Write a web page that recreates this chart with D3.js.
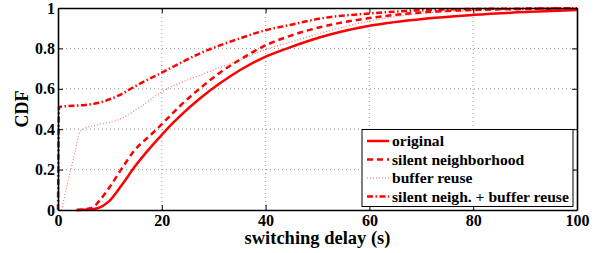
<!DOCTYPE html>
<html><head><meta charset="utf-8">
<script src="https://cdn.jsdelivr.net/npm/d3@7"></script>
<style>body{margin:0;background:#fff}svg{display:block}text{font-family:"Liberation Serif","Times New Roman",serif;font-weight:bold;fill:#000}</style>
</head><body><svg id="c" width="605" height="253"></svg>
<script>
const xTicks = [0, 20, 40, 60, 80, 100];
const yTicks = [0, 0.2, 0.4, 0.6, 0.8, 1];
const yTickLabels = ["0", "0.2", "0.4", "0.6", "0.8", "1"];
const seriesNames = ["original", "silent neighborhood", "buffer reuse", "silent neigh. + buffer reuse"];
const original = [[3.6,0],[6,0.002],[7.8,0.01],[9.7,0.04],[12.3,0.124],[14.8,0.215],[18,0.315],[20,0.372],[22.2,0.432],[23.5,0.465],[27.4,0.553],[31.2,0.627],[35.1,0.693],[40,0.759],[44.7,0.805],[50.5,0.855],[60,0.912],[71,0.948],[80,0.966],[90,0.98],[100,0.99]];
const silentNeigh = [[3.6,0],[6.5,0.01],[8.1,0.05],[10,0.115],[12.3,0.206],[14.8,0.297],[18,0.375],[20,0.425],[23.5,0.515],[27.4,0.603],[31.2,0.68],[35.1,0.745],[40,0.815],[44.7,0.862],[50.5,0.905],[60,0.95],[71,0.98],[80,0.99],[90,0.995],[100,0.998]];
const bufferReuse = [[0.7,0],[2,0.15],[3.3,0.29],[4.2,0.385],[5.2,0.405],[7.4,0.42],[12.3,0.454],[16.1,0.515],[20,0.585],[27.4,0.668],[35.1,0.743],[40,0.795],[44.7,0.83],[50.5,0.875],[60,0.935],[71,0.975],[80,0.988],[90,0.995],[100,0.998]];
const silentBuffer = [[0,0],[0.2,0.51],[5.2,0.52],[7.4,0.528],[11.6,0.566],[14.8,0.612],[20,0.68],[27.4,0.776],[35.1,0.85],[40,0.89],[44.7,0.916],[50.5,0.948],[60,0.973],[71,0.99],[80,0.995],[90,0.997],[100,0.999]];
const seriesData = [original, silentNeigh, bufferReuse, silentBuffer];
const styles = [
  {w:2.5, dash:null, color:"#ff0000", op:1},
  {w:2.5, dash:"6,4", color:"#ff0000", op:1},
  {w:1.1, dash:"1,2", color:"#ff0000", op:0.6},
  {w:2.5, dash:"6,2.5,1.5,2.5", color:"#ff0000", op:1}
];

const svg = d3.select("#c");
const L=58, R=577, T=8, B=210;
const x = d3.scaleLinear().domain([0,100]).range([L,R]);
const y = d3.scaleLinear().domain([0,1]).range([B,T]);

const g = svg.append("g");
g.selectAll(".gx").data(xTicks.slice(1,-1)).join("line")
  .attr("x1",d=>x(d)).attr("x2",d=>x(d)).attr("y1",B).attr("y2",T)
  .attr("stroke","#999").attr("stroke-width",1).attr("stroke-dasharray","1,3");
g.selectAll(".gy").data(yTicks.slice(1,-1)).join("line")
  .attr("y1",d=>y(d)).attr("y2",d=>y(d)).attr("x1",L).attr("x2",R)
  .attr("stroke","#999").attr("stroke-width",1).attr("stroke-dasharray","1,3");

const line = d3.line().x(d=>x(d[0])).y(d=>y(d[1])).curve(d3.curveMonotoneX);
seriesData.forEach((s,i)=>{
  const st=styles[i];
  g.append("path").attr("d",line(s)).attr("fill","none")
   .attr("stroke",st.color).attr("stroke-width",st.w).attr("stroke-opacity",st.op)
   .attr("stroke-dasharray",st.dash);
});

const tl = 5;
const axB = svg.append("g").attr("transform",`translate(0,${B})`).call(d3.axisBottom(x).tickValues(xTicks).tickSizeInner(-tl).tickSizeOuter(0).tickPadding(5));
const axT = svg.append("g").attr("transform",`translate(0,${T})`).call(d3.axisTop(x).tickValues(xTicks).tickSizeInner(-tl).tickSizeOuter(0).tickFormat(""));
const axL = svg.append("g").attr("transform",`translate(${L},0)`).call(d3.axisLeft(y).tickValues(yTicks).tickSizeInner(-tl).tickSizeOuter(0).tickPadding(3).tickFormat((d,i)=>yTickLabels[i]));
const axR = svg.append("g").attr("transform",`translate(${R},0)`).call(d3.axisRight(y).tickValues(yTicks).tickSizeInner(-tl).tickSizeOuter(0).tickFormat(""));
[axB,axT,axL,axR].forEach(a=>{
  a.attr("font-family",null).attr("font-size",null);
  a.select(".domain").attr("stroke","#000").attr("stroke-width",1.6);
  a.selectAll(".tick line").attr("stroke","#000").attr("stroke-width",1);
  a.selectAll("text").attr("font-family","Liberation Serif").attr("font-weight","bold").attr("font-size",16).attr("fill","#000");
});

svg.append("text").attr("x",(L+R)/2).attr("y",244).attr("text-anchor","middle").attr("font-size",18.5).text("switching delay (s)");
svg.append("text").attr("transform",`translate(28,${(T+B)/2}) rotate(-90)`).attr("text-anchor","middle").attr("font-size",18).text("CDF");

const lg = svg.append("g");
lg.append("rect").attr("x",362).attr("y",129.5).attr("width",211).attr("height",77)
  .attr("fill","#fff").attr("stroke","#000").attr("stroke-width",1);
const ly = [141, 159.5, 178, 196.5];
seriesNames.forEach((n,i)=>{
  const st=styles[i];
  lg.append("line").attr("x1",367).attr("x2",389).attr("y1",ly[i]).attr("y2",ly[i])
    .attr("stroke",st.color).attr("stroke-width",st.w).attr("stroke-opacity",st.op).attr("stroke-dasharray",st.dash);
  lg.append("text").attr("x",392).attr("y",ly[i]+5).attr("font-size",15.6).text(n);
});
</script></body></html>
